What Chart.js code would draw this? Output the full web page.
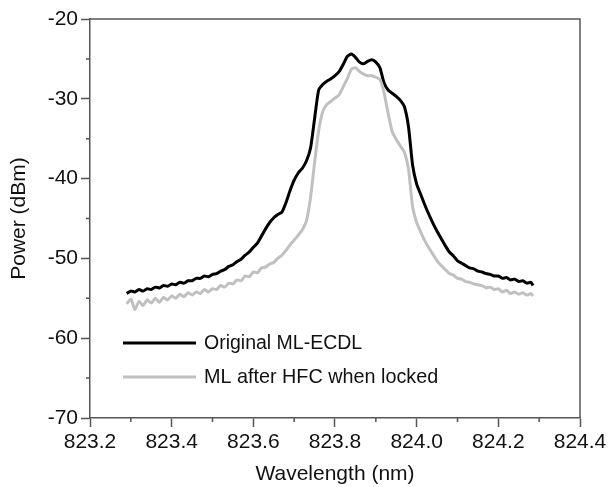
<!DOCTYPE html>
<html>
<head>
<meta charset="utf-8">
<script src="https://cdn.jsdelivr.net/npm/chart.js@4"></script>
<style>
  html, body { margin: 0; padding: 0; background: #fff; }
  #wrap { width: 610px; height: 487px; }
</style>
</head>
<body>
<div id="wrap"><canvas id="spectrum"></canvas></div>
<script>
// wavelength (nm) and power (dBm)
var originalX = [823.29, 823.30, 823.31, 823.32, 823.33, 823.34, 823.35, 823.36, 823.37, 823.38, 823.39, 823.40, 823.41, 823.42, 823.43, 823.44, 823.45, 823.46, 823.47, 823.48, 823.49, 823.50, 823.51, 823.52, 823.53, 823.54, 823.55, 823.56, 823.57, 823.58, 823.59, 823.60, 823.61, 823.62, 823.63, 823.64, 823.65, 823.66, 823.67, 823.68, 823.69, 823.70, 823.71, 823.72, 823.73, 823.74, 823.75, 823.76, 823.77, 823.78, 823.79, 823.80, 823.81, 823.82, 823.83, 823.84, 823.85, 823.86, 823.87, 823.88, 823.89, 823.90, 823.91, 823.92, 823.93, 823.94, 823.95, 823.96, 823.97, 823.98, 823.99, 824.00, 824.01, 824.02, 824.03, 824.04, 824.05, 824.06, 824.07, 824.08, 824.09, 824.10, 824.11, 824.12, 824.13, 824.14, 824.15, 824.16, 824.17, 824.18, 824.19, 824.20, 824.21, 824.22, 824.23, 824.24, 824.25, 824.26, 824.27, 824.28, 824.285];
var originalY = [-54.4, -54.1, -54.2, -53.9, -54.1, -53.8, -53.9, -53.6, -53.7, -53.4, -53.5, -53.2, -53.3, -53.0, -53.1, -52.8, -52.8, -52.5, -52.5, -52.2, -52.3, -52.0, -51.9, -51.6, -51.4, -51.0, -50.8, -50.4, -50.1, -49.6, -49.2, -48.6, -48.1, -47.2, -46.3, -45.5, -44.9, -44.5, -44.2, -43.0, -41.5, -40.2, -39.3, -38.7, -37.8, -36.2, -32.5, -28.9, -28.2, -27.8, -27.5, -27.1, -26.6, -25.7, -24.7, -24.4, -24.8, -25.4, -25.6, -25.3, -25.1, -25.4, -26.1, -28.0, -28.9, -29.3, -29.7, -30.2, -31.0, -33.5, -38.3, -40.7, -42.0, -43.3, -44.5, -45.6, -46.6, -47.5, -48.4, -49.2, -49.7, -50.3, -50.6, -50.9, -51.2, -51.3, -51.6, -51.7, -51.9, -52.0, -52.2, -52.2, -52.5, -52.4, -52.7, -52.6, -52.9, -52.8, -53.1, -53.0, -53.4];

var lockedX = originalX;
var lockedY = [-55.7, -55.1, -56.4, -55.4, -55.9, -55.2, -55.6, -55.0, -55.5, -54.9, -55.2, -54.7, -55.0, -54.5, -54.8, -54.3, -54.6, -54.2, -54.4, -53.9, -54.2, -53.8, -53.9, -53.4, -53.6, -53.1, -53.2, -52.7, -52.8, -52.2, -52.3, -51.7, -51.8, -51.2, -51.1, -50.7, -50.5, -50.0, -49.6, -49.0, -48.3, -47.7, -47.1, -46.4, -45.3, -42.4, -38.0, -34.0, -31.6, -30.7, -30.3, -29.9, -29.5, -28.5, -27.5, -26.3, -26.1, -26.6, -26.9, -27.1, -27.1, -27.3, -27.6, -29.2, -31.8, -34.1, -35.1, -35.9, -36.7, -38.8, -43.5, -45.5, -46.7, -47.8, -48.7, -49.5, -50.3, -50.9, -51.4, -51.9, -52.1, -52.5, -52.6, -52.9, -53.0, -53.2, -53.3, -53.4, -53.7, -53.6, -53.9, -53.8, -54.2, -54.0, -54.4, -54.2, -54.5, -54.3, -54.6, -54.4, -54.7];

var seriesNames = ['Original ML-ECDL', 'ML after HFC when locked'];
var xMinor = [823.3, 823.5, 823.7, 823.9, 824.1, 824.3];
var yMinor = [-25, -35, -45, -55, -65];

var FONT = '"Liberation Sans", Arial, sans-serif';
var AXIS = '#555';

function points(xs, ys) {
    return xs.map(function (x, i) { return { x: x, y: ys[i] }; });
}

// frame, minor ticks and the hand-placed legend
var extras = {
    id: 'extras',
    afterDraw: function (chart) {
        var ctx = chart.ctx, a = chart.chartArea;
        var xs = chart.scales.x, ys = chart.scales.y;
        ctx.save();
        ctx.strokeStyle = AXIS;
        ctx.lineWidth = 1.5;
        ctx.beginPath();
        ctx.moveTo(a.left, a.top);
        ctx.lineTo(a.right, a.top);
        ctx.lineTo(a.right, a.bottom);
        ctx.stroke();
        ctx.beginPath();
        xMinor.forEach(function (v) {
            var px = xs.getPixelForValue(v);
            ctx.moveTo(px, a.bottom);
            ctx.lineTo(px, a.bottom + 4);
        });
        yMinor.forEach(function (v) {
            var py = ys.getPixelForValue(v);
            ctx.moveTo(a.left, py);
            ctx.lineTo(a.left - 4, py);
        });
        ctx.stroke();

        var rows = [
            { y: 343, color: '#000', size: 19.5 },
            { y: 377, color: '#c0c0c0', size: 19.8 }
        ];
        ctx.textBaseline = 'middle';
        ctx.fillStyle = '#111';
        rows.forEach(function (r, i) {
            ctx.strokeStyle = r.color;
            ctx.lineWidth = 3;
            ctx.beginPath();
            ctx.moveTo(123, r.y);
            ctx.lineTo(196, r.y);
            ctx.stroke();
            ctx.font = r.size + 'px ' + FONT;
            ctx.fillText(seriesNames[i], 204, r.y + 1);
        });
        ctx.restore();
    }
};

new Chart(document.getElementById('spectrum'), {
    type: 'line',
    data: {
        datasets: [{
            label: seriesNames[1],
            data: points(lockedX, lockedY),
            borderColor: '#c0c0c0',
            borderWidth: 3,
            pointRadius: 0,
            tension: 0.2,
            fill: false
        }, {
            label: seriesNames[0],
            data: points(originalX, originalY),
            borderColor: '#000',
            borderWidth: 3,
            pointRadius: 0,
            tension: 0.2,
            fill: false
        }]
    },
    options: {
        responsive: true,
        maintainAspectRatio: false,
        animation: false,
        layout: { padding: { top: 19, right: 30, left: 0, bottom: 0 } },
        plugins: {
            legend: { display: false },
            tooltip: { enabled: false }
        },
        scales: {
            x: {
                type: 'linear',
                min: 823.2,
                max: 824.4,
                afterFit: function (s) { s.height = 69; },
                ticks: {
                    stepSize: 0.2,
                    autoSkip: false,
                    maxRotation: 0,
                    padding: 3,
                    color: '#111',
                    font: { family: FONT, size: 21 },
                    callback: function (v) { return v.toFixed(1); }
                },
                grid: { drawOnChartArea: false, tickLength: 9, tickColor: AXIS, tickWidth: 1.5 },
                border: { color: AXIS, width: 1.5 },
                title: {
                    display: true,
                    text: 'Wavelength (nm)',
                    color: '#111',
                    font: { family: FONT, size: 21 },
                    padding: { top: 6, bottom: 0 }
                }
            },
            y: {
                min: -70,
                max: -20,
                afterFit: function (s) { s.width = 90; },
                ticks: {
                    stepSize: 10,
                    padding: 3,
                    color: '#111',
                    font: { family: FONT, size: 21 }
                },
                grid: { drawOnChartArea: false, tickLength: 9, tickColor: AXIS, tickWidth: 1.5 },
                border: { color: AXIS, width: 1.5 },
                title: {
                    display: true,
                    text: 'Power (dBm)',
                    color: '#111',
                    font: { family: FONT, size: 21 },
                    padding: { top: 7, bottom: 0 }
                }
            }
        }
    },
    plugins: [extras]
});
</script>
</body>
</html>
